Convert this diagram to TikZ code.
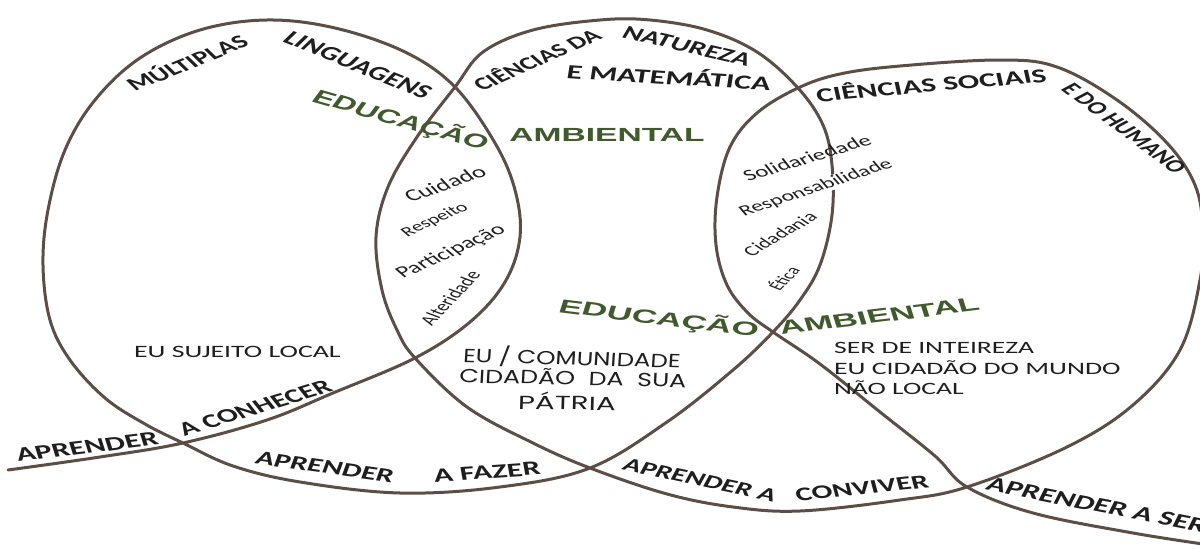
\documentclass[tikz,border=0pt]{standalone}
\usepackage{fontspec}
\usepackage{graphicx}
\setmainfont{Carlito}
\newfontfamily\greenfont{Liberation Sans}
\newfontfamily\geofont{Poppins}
\definecolor{ink}{RGB}{92,78,70}
\definecolor{eagreen}{RGB}{64,90,46}
\definecolor{txt}{RGB}{30,30,30}
\newcommand{\fitw}[2]{\resizebox{#1pt}{!}{#2}}
\newcommand{\fith}[2]{\resizebox{#1pt}{\height}{#2}}
\tikzset{
  lab/.style={xscale=1.6, rotate=#1, inner sep=0.5pt, text=txt},
  bstyle/.style={font=\fontsize{20}{24}\selectfont\bfseries},
  gstyle/.style={font=\greenfont\fontsize{19}{22}\selectfont\bfseries, text=eagreen},
  lstyle/.style={font=\fontsize{15}{18}\selectfont},
  rstyle/.style={font=\fontsize{17}{20}\selectfont, anchor=base west},
  geostyle/.style={font=\geofont\fontsize{19}{22}\selectfont},
  loopline/.style={draw=ink, line width=3pt, line cap=round, line join=round}
}
\begin{document}
\begin{tikzpicture}[x=1pt,y=-1pt]
\useasboundingbox (0,0) rectangle (1200,549);
\clip (0,0) rectangle (1200,549);
\path[loopline] plot[smooth, tension=0.6] coordinates {
 (8,470) (100,457) (183,443) (267,420) (333,393) (415,358) (470,322) (505,282)
 (520,237) (515,190) (495,143) (455,87) (405,52) (335,28) (267,20) (200,30)
 (140,58) (95,100) (65,150) (48,210) (43,265) (50,320) (70,360) (105,398)
 (145,424) (183,443) (233,466) (300,482) (400,493) (500,487) (590,468)
 (667,422) (733,370) (773,332) (800,300) (820,265) (832,215) (832,165)
 (823,125) (798,88) (757,52) (707,30) (650,20) (600,20) (533,30) (483,52)
 (455,87) (417,137) (388,187) (376,237) (382,290) (397,330) (415,358)
 (467,407) (533,443) (590,468) (667,494) (733,507) (800,511) (900,500)
 (967,487) (1067,447) (1133,405) (1180,350) (1200,280) (1203,230) (1195,185)
 (1167,143) (1117,100) (1057,67) (1000,60) (900,66) (840,74) (798,88)
 (757,113) (730,147) (717,197) (716,245) (727,285) (748,313) (773,332)
 (820,364) (880,412) (935,456) (967,487) (1033,513) (1133,533) (1210,545)};

% upper labels
\node[lab=32.9, bstyle] (multiplas) at (186,62) {\fitw{86}{MÚLTIPLAS}};
\node[lab=-32.9, bstyle] (linguagens) at (358,65) {\fitw{106}{LINGUAGENS}};
\node[lab=35.5, bstyle] (cienciasda) at (536,59) {\fitw{93}{CIÊNCIAS DA}};
\node[lab=-20.3, bstyle] (natureza) at (687,46) {\fitw{84}{NATUREZA}};
\node[lab=-5.6, bstyle] (matematica) at (669,76) {\fitw{128}{E MATEMÁTICA}};
\node[lab=8, bstyle] (sociais) at (931,84) {\fitw{145}{CIÊNCIAS SOCIAIS}};
\node[lab=-49.8, bstyle] (humano) at (1124,128) {\fitw{111}{E DO HUMANO}};
% lower labels
\node[lab=11.1, bstyle] (aprender1) at (87,447) {\fitw{90}{APRENDER}};
\node[lab=26.1, bstyle] (conhecer) at (255,408) {\fitw{104}{A CONHECER}};
\node[lab=-12.7, bstyle] (aprender2) at (325,467) {\fitw{88}{APRENDER}};
\node[lab=6.4, bstyle] (fazer) at (487,472) {\fitw{67}{A FAZER}};
\node[lab=-18.8, bstyle] (aprender3) at (700,480) {\fitw{100}{APRENDER A}};
\node[lab=9.5, bstyle] (conviver) at (862,488) {\fitw{84}{CONVIVER}};
\node[lab=-17.3, bstyle] (aprender4) at (1097,505) {\fitw{143}{APRENDER A SER}};
% green labels
\node[lab=-24.6, gstyle] (edu1) at (401,120) {\fith{119}{EDUCAÇÃO}};
\node[lab=0, gstyle] (amb1) at (607,135) {\fith{122}{AMBIENTAL}};
\node[lab=-11.1, gstyle] (edu2) at (659,318) {\fith{127}{EDUCAÇÃO}};
\node[lab=11.1, gstyle] (amb2) at (879,316) {\fith{127}{AMBIENTAL}};
% lens 1
\node[lab=30, lstyle] (cuidado) at (445,184) {\fitw{56}{Cuidado}};
\node[lab=36, lstyle] (respeito) at (435,220) {\fitw{48}{Respeito}};
\node[lab=36, lstyle] (particip) at (451,252) {\fitw{80}{Participação}};
\node[lab=59, lstyle] (alter) at (450,298) {\fitw{60}{Alteridade}};
% lens 2
\node[lab=28, lstyle, fill=white] (respons) at (816,188) {\fitw{106}{Responsabilidade}};
\node[lab=26, lstyle] (solid) at (807,158) {\fitw{87}{Solidariedade}};
\node[lab=43, lstyle] (cidad) at (780,234) {\fitw{57}{Cidadania}};
\node[lab=58, lstyle] (etica) at (783,278) {\fitw{25}{Ética}};
% horizontal blocks
\node[lab=0, rstyle] (sujeito) at (133,357) {\fitw{129}{EU SUJEITO LOCAL}};
\node[lab=0, rstyle] (ser1) at (833,353) {\fitw{125}{SER DE INTEIREZA}};
\node[lab=0, rstyle] (ser2) at (833,374) {\fitw{179}{EU CIDADÃO DO MUNDO}};
\node[lab=0, rstyle] (ser3) at (833,394) {\fitw{81}{NÃO LOCAL}};
\node[lab=-2.4, geostyle] (comunidade) at (572,358) {\fith{136}{EU / COMUNIDADE}};
\node[lab=-2, geostyle] (cidadao) at (573,377) {\fith{142}{CIDADÃO\ \ DA\ \ SUA}};
\node[lab=-1, geostyle] (patria) at (567,401) {\fith{61}{PÁTRIA}};
\end{tikzpicture}
\end{document}
